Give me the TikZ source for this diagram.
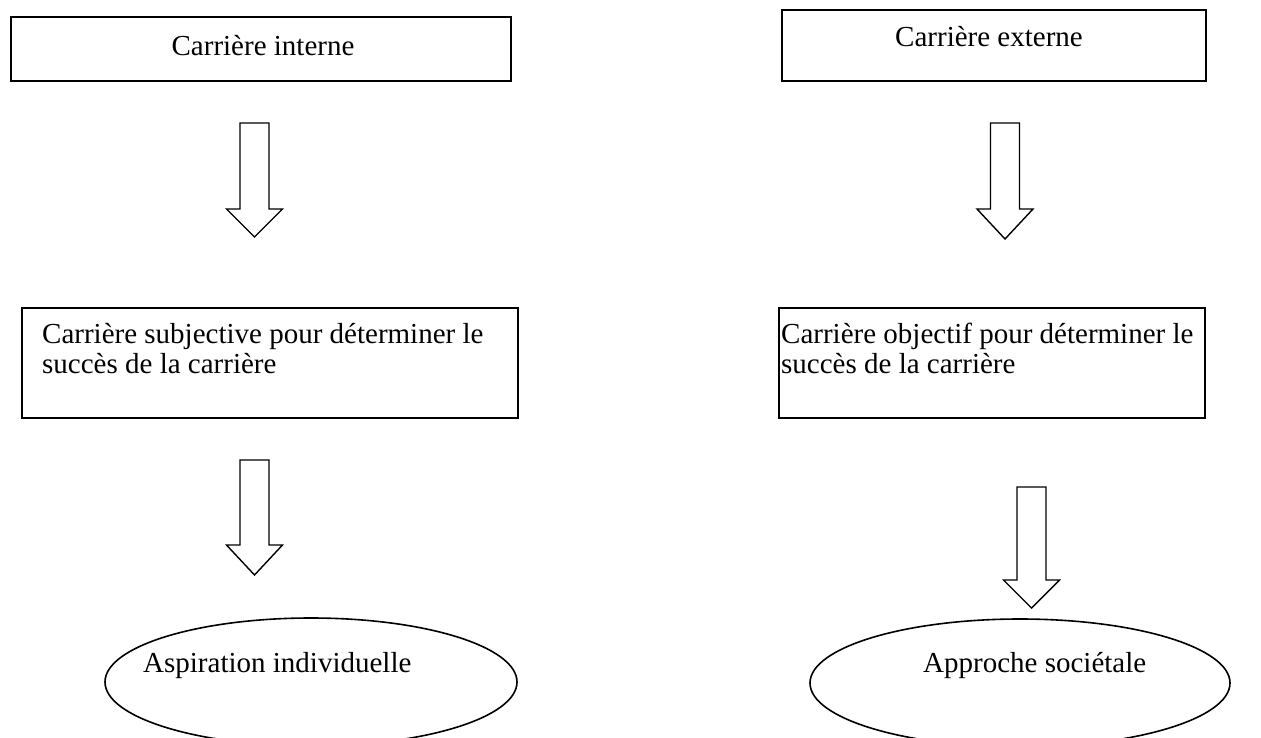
\documentclass[tikz,border=0pt]{standalone}
\usepackage{fontspec}
\setmainfont{Liberation Serif}
\usetikzlibrary{calc,shapes.geometric}
\tikzset{
  box/.style={draw, line width=2pt, rectangle, anchor=north west, inner sep=0pt},
  lbl/.style={inner sep=0pt, font=\fontsize{29}{30}\selectfont},
  oval/.style={draw, line width=1.6pt, ellipse, inner sep=0pt},
  barrow/.style={draw, line width=1.4pt, fill=white, line join=miter},
}
\newcommand{\blockarrow}[6]{% center x, top y, head start y, tip y, half shaft, half head
  \draw[barrow] (#1-#5,#2) -- (#1+#5,#2) -- (#1+#5,#3) -- (#1+#6,#3) -- (#1,#4)
    -- (#1-#6,#3) -- (#1-#5,#3) -- cycle;}
\begin{document}
\begin{tikzpicture}[x=1pt,y=-1pt]
\useasboundingbox (0,0) rectangle (1261,738);
\clip (0,0) rectangle (1261,738);
\fill[white] (0,0) rectangle (1261,738);
% boxes
\node[box, minimum width=500pt, minimum height=64pt] (b1) at (10,16) {};
\node[box, minimum width=424pt, minimum height=71pt] (b2) at (781,9) {};
\node[box, minimum width=496pt, minimum height=110pt] (b3) at (21,307) {};
\node[box, minimum width=426pt, minimum height=110pt] (b4) at (778,307) {};
% texts
\node[lbl, anchor=base] (t1) at ($(b1.north)+(2,40)$) {Carrière interne};
\node[lbl, anchor=base] (t2) at ($(b2.north)+(-5,38)$) {Carrière externe};
\node[lbl, anchor=base west, align=left] (t3) at ($(b3.north west)+(21,66)$) {Carrière subjective pour déterminer le\\succès de la carrière};
\node[lbl, anchor=base west, align=left] (t4) at ($(b4.north west)+(3,66)$) {Carrière objectif pour déterminer le\\succès de la carrière};
% ellipses
\node[oval, minimum width=412pt, minimum height=128pt] (e1) at (311,682) {};
\node[oval, minimum width=420pt, minimum height=128pt] (e2) at (1020,683) {};
\node[lbl, anchor=base west] (t5) at (143,672) {Aspiration individuelle};
\node[lbl, anchor=base west] (t6) at (923,672) {Approche sociétale};
% block arrows
\blockarrow{254.5}{123}{209}{237}{14.5}{28}
\blockarrow{254.5}{460}{545}{575}{14.5}{28}
\blockarrow{1005}{123}{209}{239}{14.5}{28}
\blockarrow{1031.5}{487}{580}{608}{14.5}{28}
\end{tikzpicture}
\end{document}
